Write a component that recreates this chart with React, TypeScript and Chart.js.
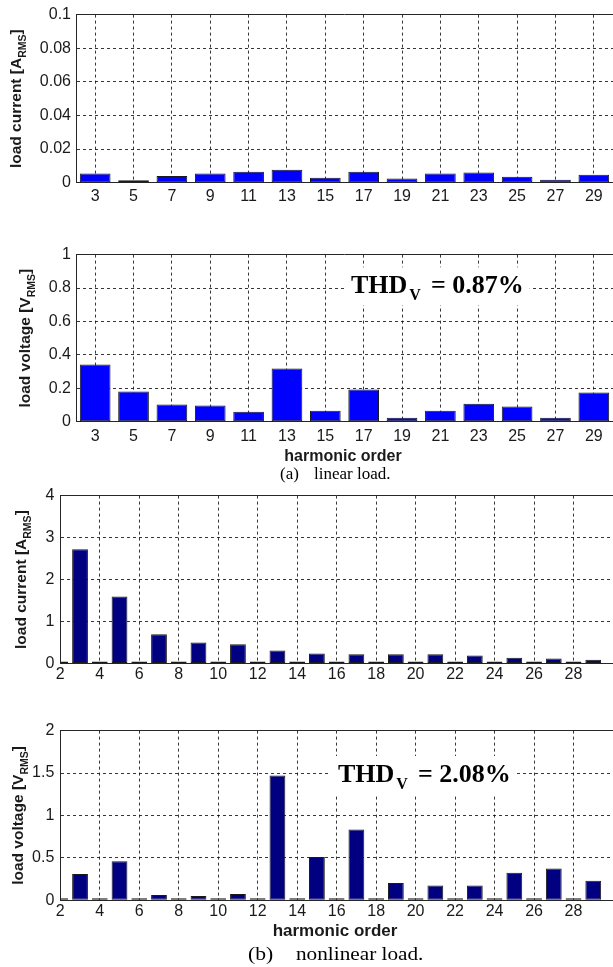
import React, { useEffect, useRef } from "react";
import { Chart, registerables } from "chart.js";

Chart.register(...registerables);

// ---------------- DATA ----------------
// (a) linear load: odd harmonics
const linearHarmonics = [3, 5, 7, 9, 11, 13, 15, 17, 19, 21, 23, 25, 27, 29];
const linearCurrent = [0.0055, 0.0015, 0.004, 0.0055, 0.0065, 0.0077, 0.003, 0.0065, 0.0025, 0.0055, 0.006, 0.0035, 0.0017, 0.0048];
const linearVoltage = [0.343, 0.18, 0.103, 0.097, 0.059, 0.319, 0.065, 0.192, 0.024, 0.065, 0.107, 0.091, 0.024, 0.174];

// (b) nonlinear load: harmonics 2..29
const nonlinearHarmonics = [2, 3, 4, 5, 6, 7, 8, 9, 10, 11, 12, 13, 14, 15, 16, 17, 18, 19, 20, 21, 22, 23, 24, 25, 26, 27, 28, 29];
const nonlinearCurrent = [0.02, 2.72, 0.02, 1.6, 0.02, 0.7, 0.02, 0.5, 0.02, 0.46, 0.02, 0.31, 0.02, 0.24, 0.02, 0.22, 0.02, 0.22, 0.02, 0.22, 0.02, 0.19, 0.02, 0.14, 0.02, 0.12, 0.02, 0.094];
const nonlinearVoltage = [0.012, 0.31, 0.012, 0.46, 0.012, 0.063, 0.012, 0.05, 0.012, 0.075, 0.012, 1.47, 0.012, 0.51, 0.012, 0.835, 0.012, 0.204, 0.012, 0.173, 0.012, 0.173, 0.012, 0.325, 0.012, 0.376, 0.012, 0.231];

// tick values / labels
const oddTicks = [3, 5, 7, 9, 11, 13, 15, 17, 19, 21, 23, 25, 27, 29];
const oddTickLabels = ["3", "5", "7", "9", "11", "13", "15", "17", "19", "21", "23", "25", "27", "29"];
const evenTicks = [2, 4, 6, 8, 10, 12, 14, 16, 18, 20, 22, 24, 26, 28];
const evenTickLabels = ["2", "4", "6", "8", "10", "12", "14", "16", "18", "20", "22", "24", "26", "28"];

const yTicksA1 = [0, 0.02, 0.04, 0.06, 0.08, 0.1];
const yLabelsA1 = ["0", "0.02", "0.04", "0.06", "0.08", "0.1"];
const yTicksA2 = [0, 0.2, 0.4, 0.6, 0.8, 1];
const yLabelsA2 = ["0", "0.2", "0.4", "0.6", "0.8", "1"];
const yTicksB1 = [0, 1, 2, 3, 4];
const yLabelsB1 = ["0", "1", "2", "3", "4"];
const yTicksB2 = [0, 0.5, 1, 1.5, 2];
const yLabelsB2 = ["0", "0.5", "1", "1.5", "2"];

const thdLinear = "0.87%";
const thdNonlinear = "2.08%";

// ---------------- STYLE ----------------
const SANS = '"Liberation Sans", Arial, Helvetica, sans-serif';
const SERIF = '"Liberation Serif", "Times New Roman", Times, serif';
const AXIS = "#262626";
const GRID = "rgba(20,20,20,0.85)";
const TEXT = "#1a1a1a";

type Spec = {
  top: number;
  height: number;
  areaLeft: number;
  areaTop: number;
  areaBottom: number;
  xs: number[];
  ys: number[];
  color: string;
  xTicks: number[];
  xLabels: string[];
  yMax: number;
  yTicks: number[];
  yLabels: string[];
  yTitle: [string, string, string];
  yTitleX: number;
  yTitleSize: number;
  xTickPad: number;
  yTickPad: number;
  xTitle?: string;
  xTitleX?: number;
  xTitleY?: number;
  xTitleSize?: number;
  thd?: string;
  thdX?: number;
  thdY?: number;
};

function makeDecor(spec: Spec) {
  return {
    id: "decor",
    afterDraw(chart: any) {
      const ctx: CanvasRenderingContext2D = chart.ctx;
      const ca = chart.chartArea;
      const ys = chart.scales.y;
      // top border of axes box
      ctx.save();
      const yt = Math.floor(ys.getPixelForValue(spec.yMax)) + 0.5;
      ctx.strokeStyle = AXIS;
      ctx.lineWidth = 1;
      ctx.beginPath();
      ctx.moveTo(ca.left, yt);
      ctx.lineTo(ca.right, yt);
      ctx.stroke();
      ctx.restore();

      // rotated y title with subscript
      {
        const [main, sub, tail] = spec.yTitle;
        const size = spec.yTitleSize;
        const subSize = size * 0.68;
        ctx.save();
        const cy = (ca.top + ca.bottom) / 2;
        ctx.translate(spec.yTitleX, cy);
        ctx.rotate(-Math.PI / 2);
        ctx.fillStyle = TEXT;
        ctx.textBaseline = "alphabetic";
        ctx.textAlign = "left";
        const mainFont = `bold ${size}px ${SANS}`;
        const subFont = `bold ${subSize}px ${SANS}`;
        ctx.font = mainFont;
        const w1 = ctx.measureText(main).width;
        const w3 = ctx.measureText(tail).width;
        ctx.font = subFont;
        const w2 = ctx.measureText(sub).width;
        let x = -(w1 + w2 + w3) / 2;
        ctx.font = mainFont;
        ctx.fillText(main, x, 0);
        x += w1;
        ctx.font = subFont;
        ctx.fillText(sub, x, size * 0.33);
        x += w2;
        ctx.font = mainFont;
        ctx.fillText(tail, x, 0);
        ctx.restore();
      }

      // x title
      if (spec.xTitle) {
        ctx.save();
        ctx.font = `bold ${spec.xTitleSize}px ${SANS}`;
        ctx.fillStyle = TEXT;
        ctx.textAlign = "center";
        ctx.textBaseline = "middle";
        ctx.fillText(spec.xTitle, spec.xTitleX as number, (spec.xTitleY as number) - spec.top);
        ctx.restore();
      }

      // THD annotation
      if (spec.thd) {
        ctx.save();
        const x0 = spec.thdX as number;
        const base = (spec.thdY as number) - spec.top;
        const big = `bold 26px ${SERIF}`;
        const small = `bold 16px ${SERIF}`;
        ctx.font = big;
        const wT = ctx.measureText("THD").width;
        const tail = "= " + spec.thd;
        const wTail = ctx.measureText(tail).width;
        ctx.font = small;
        const wV = ctx.measureText("V").width;
        const xV = x0 + wT + 2;
        const xTail = xV + wV + 10;
        const xEnd = xTail + wTail;
        ctx.fillStyle = "#ffffff";
        ctx.fillRect(x0 - 7, base - 26, xEnd - x0 + 13, 38);
        ctx.fillStyle = "#000";
        ctx.textBaseline = "alphabetic";
        ctx.textAlign = "left";
        ctx.font = big;
        ctx.fillText("THD", x0, base);
        ctx.font = small;
        ctx.fillText("V", xV, base + 7);
        ctx.font = big;
        ctx.fillText(tail, xTail, base);
        ctx.restore();
      }
    },
  };
}

function Panel({ spec }: { spec: Spec }) {
  const ref = useRef<HTMLCanvasElement>(null);
  useEffect(() => {
    const canvas = ref.current as HTMLCanvasElement;
    const tickFont = { family: SANS, size: 16 };
    const chart = new Chart(canvas, {
      type: "bar",
      data: {
        datasets: [
          {
            data: spec.xs.map((x, i) => ({ x, y: spec.ys[i] })) as any,
            backgroundColor: spec.color,
            borderColor: "#1a1a1a",
            borderWidth: 1,
            borderSkipped: false,
            barPercentage: 0.8,
            categoryPercentage: 1,
            minBarLength: 2,
          } as any,
        ],
      },
      options: {
        responsive: false,
        animation: false,
        devicePixelRatio: 1,
        events: [],
        layout: { padding: { top: spec.areaTop - spec.top, left: 0, right: 0, bottom: 0 } },
        plugins: { legend: { display: false }, tooltip: { enabled: false }, title: { display: false } },
        scales: {
          x: {
            type: "linear",
            min: 2,
            max: 30,
            offset: false,
            afterBuildTicks: (s: any) => {
              s.ticks = spec.xTicks.map((v) => ({ value: v }));
            },
            afterFit: (s: any) => {
              s.height = spec.top + spec.height - spec.areaBottom;
            },
            ticks: {
              autoSkip: false,
              maxRotation: 0,
              minRotation: 0,
              padding: spec.xTickPad,
              font: tickFont,
              color: TEXT,
              callback: (_v: any, i: number) => spec.xLabels[i],
            },
            grid: { color: GRID, lineWidth: 1, drawTicks: false, offset: false },
            border: { display: true, color: AXIS, width: 1, dash: [3, 3] },
          } as any,
          y: {
            type: "linear",
            min: 0,
            max: spec.yMax,
            afterBuildTicks: (s: any) => {
              s.ticks = spec.yTicks.map((v) => ({ value: v }));
            },
            afterFit: (s: any) => {
              s.width = spec.areaLeft;
            },
            ticks: {
              padding: spec.yTickPad,
              font: tickFont,
              color: TEXT,
              callback: (_v: any, i: number) => spec.yLabels[i],
            },
            grid: { color: GRID, lineWidth: 1, drawTicks: false },
            border: { display: true, color: AXIS, width: 1, dash: [3, 3] },
          } as any,
        },
      },
      plugins: [makeDecor(spec)],
    });
    return () => chart.destroy();
  }, [spec]);
  return (
    <canvas
      ref={ref}
      width={613}
      height={spec.height}
      style={{ position: "absolute", left: 0, top: spec.top, width: 613, height: spec.height, display: "block" }}
    />
  );
}

const specs: Spec[] = [
  {
    top: 0, height: 205, areaLeft: 76, areaTop: 14.3, areaBottom: 182.7,
    xs: linearHarmonics, ys: linearCurrent, color: "#0000ff",
    xTicks: oddTicks, xLabels: oddTickLabels,
    yMax: 0.1, yTicks: yTicksA1, yLabels: yLabelsA1,
    yTitle: ["load current [A", "RMS", "]"], yTitleX: 20.5, yTitleSize: 15.5,
    xTickPad: 4, yTickPad: 5,
  },
  {
    top: 240, height: 230, areaLeft: 76, areaTop: 253.3, areaBottom: 421.7,
    xs: linearHarmonics, ys: linearVoltage, color: "#0000ff",
    xTicks: oddTicks, xLabels: oddTickLabels,
    yMax: 1, yTicks: yTicksA2, yLabels: yLabelsA2,
    yTitle: ["load voltage [V", "RMS", "]"], yTitleX: 29.5, yTitleSize: 15.5,
    xTickPad: 5, yTickPad: 5,
    xTitle: "harmonic order", xTitleX: 343, xTitleY: 456.7, xTitleSize: 16,
    thd: thdLinear, thdX: 351, thdY: 293.3,
  },
  {
    top: 480, height: 205, areaLeft: 60.3, areaTop: 494.3, areaBottom: 663.6,
    xs: nonlinearHarmonics, ys: nonlinearCurrent, color: "#000080",
    xTicks: evenTicks, xLabels: evenTickLabels,
    yMax: 4, yTicks: yTicksB1, yLabels: yLabelsB1,
    yTitle: ["load current [A", "RMS", "]"], yTitleX: 26, yTitleSize: 15.5,
    xTickPad: 1, yTickPad: 6,
  },
  {
    top: 715, height: 230, areaLeft: 60.3, areaTop: 730, areaBottom: 900.3,
    xs: nonlinearHarmonics, ys: nonlinearVoltage, color: "#000080",
    xTicks: evenTicks, xLabels: evenTickLabels,
    yMax: 2, yTicks: yTicksB2, yLabels: yLabelsB2,
    yTitle: ["load voltage [V", "RMS", "]"], yTitleX: 22.5, yTitleSize: 15.5,
    xTickPad: 1.5, yTickPad: 6,
    xTitle: "harmonic order", xTitleX: 335, xTitleY: 931.7, xTitleSize: 17,
    thd: thdNonlinear, thdX: 338, thdY: 782,
  },
];

export default function App() {
  const cap: React.CSSProperties = {
    position: "absolute",
    fontFamily: SERIF,
    color: "#000",
    whiteSpace: "nowrap",
    lineHeight: "18px",
    transformOrigin: "left center",
  };
  return (
    <div style={{ position: "absolute", left: 0, top: 0, width: 613, height: 967, background: "#fff", overflow: "hidden" }}>
      {specs.map((s, i) => (
        <Panel key={i} spec={s} />
      ))}
      <span style={{ ...cap, left: 280, top: 465, fontSize: 17 }}>(a)</span>
      <span style={{ ...cap, left: 314, top: 465, fontSize: 17 }}>linear load.</span>
      <span style={{ ...cap, left: 248, top: 945, fontSize: 18, transform: "scaleX(1.2)" }}>(b)</span>
      <span style={{ ...cap, left: 296, top: 945, fontSize: 18, transform: "scaleX(1.18)" }}>nonlinear load.</span>
    </div>
  );
}
